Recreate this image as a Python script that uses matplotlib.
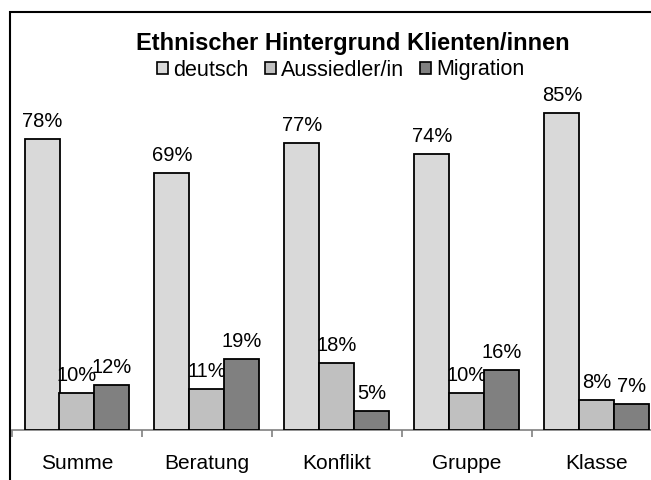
import matplotlib
matplotlib.use("Agg")
import matplotlib.pyplot as plt
from matplotlib.patches import Patch, Rectangle

plt.rcParams["font.family"] = ["Liberation Sans", "DejaVu Sans"]

categories = ["Summe", "Beratung", "Konflikt", "Gruppe", "Klasse"]
series_names = ["deutsch", "Aussiedler/in", "Migration"]
deutsch = [78, 69, 77, 74, 85]
aussiedler = [10, 11, 18, 10, 8]
migration = [12, 19, 5, 16, 7]
title = "Ethnischer Hintergrund Klienten/innen"

COLORS = ["#d9d9d9", "#c0c0c0", "#808080"]
W, H = 651, 480

fig = plt.figure(figsize=(W / 100, H / 100), dpi=100)
fig.patch.set_facecolor("white")

# chart frame (runs off the right and bottom edges in the reference)
fig.add_artist(Rectangle((10 / W, -0.1), 1.2, 1.1 - 11.5 / H, transform=fig.transFigure,
                         fill=False, edgecolor="black", linewidth=1.5))

ax = fig.add_axes([12 / W, 50 / H, 650 / W, 373 / H])
ax.set_xlim(0, len(categories))
ax.set_ylim(0, 100)

bar_w = 35 / 130
for k, (name, values) in enumerate(zip(series_names, [deutsch, aussiedler, migration])):
    xs = [i + 0.5 + (k - 1) * bar_w for i in range(len(categories))]
    ax.bar(xs, values, width=bar_w, color=COLORS[k], edgecolor="black", linewidth=1.3, zorder=3)
    for x, v in zip(xs, values):
        ax.annotate(f"{v}%", (x, v), xytext=(0, 8.6), textcoords="offset points",
                    ha="center", va="baseline", fontsize=14.5, color="black")

for side in ["left", "right", "top"]:
    ax.spines[side].set_visible(False)
ax.spines["bottom"].set_color("#808080")
ax.spines["bottom"].set_linewidth(1.2)
ax.set_yticks([])

ax.set_xticks([i + 0.5 for i in range(len(categories))])
ax.set_xticklabels(categories, fontsize=15)
ax.tick_params(axis="x", which="major", length=0, pad=17.5)
ax.set_xticks(range(len(categories) + 1), minor=True)
ax.tick_params(axis="x", which="minor", length=5, width=1.2, color="#808080", direction="out")

fig.text(353 / W, 1 - 50 / H, title, ha="center", va="baseline", fontsize=17, fontweight="bold")

handles = [Patch(facecolor=c, edgecolor="black", linewidth=1.2) for c in COLORS]
fig.legend(handles, series_names, loc="center", bbox_to_anchor=(341 / W, 1 - 70 / H),
           ncol=3, frameon=False, fontsize=15.5, handlelength=0.5, handleheight=0.5,
           handletextpad=0.25, columnspacing=0.75, borderpad=0, borderaxespad=0)

fig.savefig("out.png", dpi=100, facecolor="white")
